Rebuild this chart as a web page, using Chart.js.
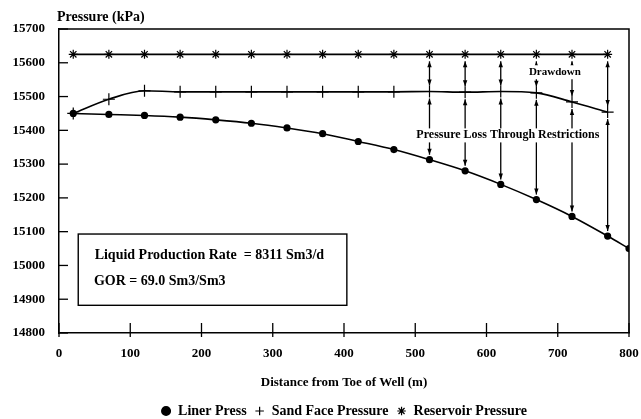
<!DOCTYPE html>
<html><head><meta charset="utf-8">
<script src="https://cdn.jsdelivr.net/npm/chart.js@4"></script>
<style>html,body{margin:0;padding:0;background:#fff}#wrap{width:641px;height:419px}</style>
</head><body><div id="wrap"><canvas id="c" width="641" height="419"></canvas></div>
<script>
// distances (m)
const distance = [20,70,120,170,220,270,320,370,420,470,520,570,620,670,720,770];
const linerDistance = [20,70,120,170,220,270,320,370,420,470,520,570,620,670,720,770,800];
// pressures (kPa)
const linerPress = [15450,15447,15444,15439,15431,15421,15407,15390,15367,15343,15313,15280,15240,15195,15145,15087,15050];
const sandFacePress = [15450,15492,15517,15514,15514,15514,15514,15514,15514,15514,15515,15513,15515,15511,15484,15454];
const reservoirPress = [15625,15625,15625,15625,15625,15625,15625,15625,15625,15625,15625,15625,15625,15625,15625,15625];
// positions where drawdown / restriction arrows are drawn
const arrowDistance = [520,570,620,670,720,770];
const xTicks = [0,100,200,300,400,500,600,700,800];
const yTicks = [14800,14900,15000,15100,15200,15300,15400,15500,15600,15700];

const FONT = "'Liberation Serif', 'Times New Roman', serif";
const pts = (xs, ys) => xs.map((x,i)=>({x:x,y:ys[i]}));

const overlay = {
  id:'overlay',
  afterLayout(chart){
    // centre the legend under the plot area rather than the canvas
    const lg = chart.legend;
    if (lg) { const a = chart.chartArea; const shift = (a.left + a.right)/2 - (lg.left + lg.right)/2; lg.left += shift; lg.right += shift; }
  },
  afterDatasetsDraw(chart){
    const {ctx, chartArea:a, scales:{x,y}} = chart;
    ctx.save();
    ctx.strokeStyle='#000'; ctx.fillStyle='#000'; ctx.lineWidth=1.5;
    // frame top/right
    ctx.beginPath();
    ctx.moveTo(a.left, a.top); ctx.lineTo(a.right, a.top); ctx.lineTo(a.right, a.bottom);
    ctx.stroke();
    // inward ticks
    ctx.lineWidth=1.3;
    yTicks.forEach(v=>{const py=y.getPixelForValue(v);ctx.beginPath();ctx.moveTo(a.left,py);ctx.lineTo(a.left+9,py);ctx.stroke();});
    xTicks.forEach(v=>{const px=x.getPixelForValue(v);ctx.beginPath();ctx.moveTo(px,a.bottom-10);ctx.lineTo(px,a.bottom+4);ctx.stroke();});
    // arrows
    function head(px,py,dir){ctx.beginPath();ctx.moveTo(px,py);ctx.lineTo(px-2.2,py-dir*6);ctx.lineTo(px+2.2,py-dir*6);ctx.closePath();ctx.fill();}
    function arrow(px,y1,y2){ctx.lineWidth=1.3;ctx.beginPath();ctx.moveTo(px,y1);ctx.lineTo(px,y2);ctx.stroke();head(px,y1,-1);head(px,y2,1);}
    arrowDistance.forEach(d=>{
      const i=distance.indexOf(d), j=linerDistance.indexOf(d);
      const px=x.getPixelForValue(d);
      const yr=y.getPixelForValue(reservoirPress[i]);
      const ys=y.getPixelForValue(sandFacePress[i]);
      const yl=y.getPixelForValue(linerPress[j]);
      arrow(px,yr+7,ys-6);
      arrow(px,ys+7,yl-5);
    });
    // labels with white background
    ctx.textBaseline='middle'; ctx.textAlign='center';
    function label(t,vx,vy,size){ctx.font="bold "+size+"px "+FONT;const px=x.getPixelForValue(vx),py=y.getPixelForValue(vy);const w=ctx.measureText(t).width;ctx.fillStyle='#fff';ctx.fillRect(px-w/2-2,py-7,w+4,14);ctx.fillStyle='#000';ctx.fillText(t,px,py);}
    label('Drawdown',696,15572,11);
    label('Pressure Loss Through Restrictions',630,15385,12);
    // info box
    const bx1=x.getPixelForValue(27), bx2=x.getPixelForValue(404), by1=y.getPixelForValue(15093), by2=y.getPixelForValue(14882);
    ctx.fillStyle='#fff'; ctx.fillRect(bx1,by1,bx2-bx1,by2-by1);
    ctx.lineWidth=1.4; ctx.strokeRect(bx1,by1,bx2-bx1,by2-by1);
    ctx.fillStyle='#000'; ctx.textAlign='left';
    ctx.font="bold 14px "+FONT;
    ctx.fillText('Liquid Production Rate  = 8311 Sm3/d', x.getPixelForValue(50), y.getPixelForValue(15030));
    ctx.fillText('GOR = 69.0 Sm3/Sm3', x.getPixelForValue(49), y.getPixelForValue(14952));
    // axis title top
    ctx.font="bold 14px "+FONT; ctx.textAlign='left';
    ctx.fillText('Pressure (kPa)', a.left-2, a.top-12);
    ctx.restore();
  }
};

new Chart(document.getElementById('c'), {
  type:'line',
  data:{datasets:[
    {label:'Liner Press', data:pts(linerDistance,linerPress), borderColor:'#000', backgroundColor:'#000', borderWidth:1.6, pointStyle:'circle', pointRadius:2.8, cubicInterpolationMode:'monotone'},
    {label:'Sand Face Pressure', data:pts(distance,sandFacePress), borderColor:'#000', backgroundColor:'#000', borderWidth:1.6, pointStyle:'cross', pointRadius:6, pointBorderWidth:1.2, cubicInterpolationMode:'monotone'},
    {label:'Reservoir Pressure', data:pts(distance,reservoirPress), borderColor:'#000', backgroundColor:'#000', borderWidth:1.6, pointStyle:'star', pointRadius:4.5, pointBorderWidth:1.2}
  ]},
  options:{
    responsive:false, animation:false,
    layout:{padding:{top:29,right:12,left:0,bottom:-9}},
    plugins:{
      tooltip:{enabled:false},
      legend:{position:'bottom', labels:{usePointStyle:true, boxWidth:10, boxHeight:6, padding:8, color:'#000', font:{family:FONT, size:14, weight:'bold'}}}
    },
    scales:{
      x:{type:'linear', min:0, max:800,
        afterBuildTicks(s){s.ticks=xTicks.map(v=>({value:v}));},
        afterFit(s){s.height=63; s.paddingLeft=0; s.paddingRight=0;},
        grid:{display:false, drawTicks:false},
        border:{display:true, color:'#000', width:1.5},
        ticks:{padding:13, color:'#000', font:{family:FONT, size:13, weight:'bold'}},
        title:{display:true, text:'Distance from Toe of Well (m)', color:'#000', font:{family:FONT, size:13, weight:'bold'}, padding:{top:10,bottom:6}}
      },
      y:{min:14800, max:15700,
        afterBuildTicks(s){s.ticks=yTicks.map(v=>({value:v}));},
        afterFit(s){s.width=59;},
        grid:{display:false, drawTicks:false},
        border:{display:true, color:'#000', width:1.5},
        ticks:{padding:14, color:'#000', font:{family:FONT, size:13, weight:'bold'}, callback:(v)=>String(v)}
      }
    }
  },
  plugins:[overlay]
});
</script></body></html>
